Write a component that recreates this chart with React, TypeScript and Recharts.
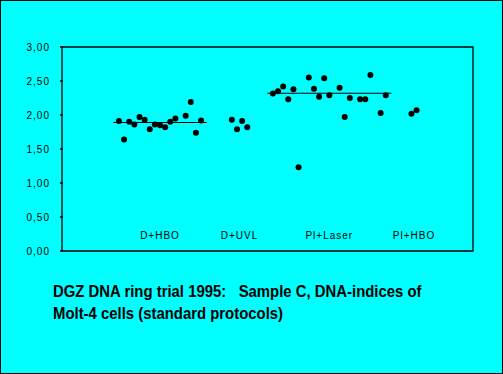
import { ScatterChart, Scatter, XAxis, YAxis, ReferenceArea, ReferenceLine } from 'recharts';

// DNA indices per protocol, one slot per lab (null = lab did not report)
const dHboValues = [1.91, 1.64, 1.90, 1.86, 1.97, 1.93, 1.79, 1.86, 1.85, 1.82, 1.90, 1.95, null, 1.99, 2.19, 1.74, 1.92];
const dUvlValues = [1.93, 1.79, 1.91, 1.82];
const plLaserValues = [2.315, 2.35, 2.42, 2.23, 2.38, 1.23, null, 2.55, 2.385, 2.27, 2.54, 2.29, null, 2.40, 1.97, 2.25, null, 2.23, 2.23, 2.59, null, 2.03, 2.29];
const plHboValues = [2.02, 2.07];

const groupNames = ['D+HBO', 'D+UVL', 'Pl+Laser', 'Pl+HBO'];
const groupStarts = [0, 22, 30, 57];
const groupMeans: (number | null)[] = [1.89, null, 2.32, null];
const groupValues = [dHboValues, dUvlValues, plLaserValues, plHboValues];

const yTicks = [0, 0.5, 1, 1.5, 2, 2.5, 3];
const xDomain: [number, number] = [-11.1, 69];
const labelLevel = 0.24;
const titleLines = ['DGZ DNA ring trial 1995:   Sample C, DNA-indices of', 'Molt-4 cells (standard protocols)'];

const points = groupValues.flatMap((vals, g) =>
    vals.map((v, i) => (v == null ? null : { x: groupStarts[g] + i, y: v })).filter(Boolean)
) as { x: number; y: number }[];

const labels = groupNames.map((name, g) => ({
    name,
    x: groupStarts[g] + (groupValues[g].length - 1) / 2,
    y: labelLevel,
}));

const means = groupMeans
    .map((m, g) => (m == null ? null : { y: m, x1: groupStarts[g] - 1.1, x2: groupStarts[g] + groupValues[g].length + 0.1 }))
    .filter(Boolean) as { y: number; x1: number; x2: number }[];

const font = "'Liberation Sans', Arial, sans-serif";

function YTick({ x, y, payload }: any) {
    return (
        <g>
            <line x1={x} x2={x + 3} y1={y} y2={y} stroke="#000" strokeWidth={1.5} />
            <text x={x - 10} y={y} dy={4} textAnchor="end" fontSize={10} letterSpacing={1} fontFamily={font} fill="#000">
                {payload.value.toFixed(2).replace('.', ',')}
            </text>
        </g>
    );
}

function Dot({ cx, cy }: any) {
    return <circle cx={cx} cy={cy} r={3} fill="#000" />;
}

function GroupLabel({ cx, cy, payload }: any) {
    return (
        <text x={cx} y={cy} dy={4} textAnchor="middle" fontSize={10} letterSpacing={1} fontFamily={font} fill="#000">
            {payload.name}
        </text>
    );
}

export default function App() {
    return (
        <div style={{ position: 'absolute', left: 0, top: 0, width: 503, height: 374, background: '#00ffff', boxSizing: 'border-box', border: '1px solid #000' }}>
            <div style={{ position: 'absolute', left: -1, top: -1 }}>
                <ScatterChart width={503} height={374} margin={{ top: 47, right: 30, bottom: 123, left: 0 }}>
                    <XAxis type="number" dataKey="x" domain={xDomain} hide allowDataOverflow />
                    <YAxis
                        type="number"
                        dataKey="y"
                        domain={[0, 3]}
                        ticks={yTicks}
                        width={62}
                        tickSize={0}
                        axisLine={false}
                        tick={<YTick />}
                    />
                    <ReferenceArea x1={xDomain[0]} x2={xDomain[1]} y1={0} y2={3} fill="none" stroke="#000" strokeWidth={1.3} />
                    {means.map((m, i) => (
                        <ReferenceLine key={i} segment={[{ x: m.x1, y: m.y }, { x: m.x2, y: m.y }]} stroke="#000" strokeWidth={1.2} />
                    ))}
                    <Scatter data={points} shape={<Dot />} isAnimationActive={false} />
                    <Scatter data={labels} shape={<GroupLabel />} isAnimationActive={false} />
                </ScatterChart>
            </div>
            <div
                style={{
                    position: 'absolute',
                    left: 52,
                    top: 280,
                    fontFamily: font,
                    fontWeight: 'bold',
                    fontSize: 17,
                    lineHeight: '22px',
                    color: '#000',
                    whiteSpace: 'pre',
                    transform: 'scaleX(0.876)',
                    transformOrigin: 'left top',
                }}
            >
                {titleLines.map((t, i) => (
                    <div key={i}>{t}</div>
                ))}
            </div>
        </div>
    );
}
